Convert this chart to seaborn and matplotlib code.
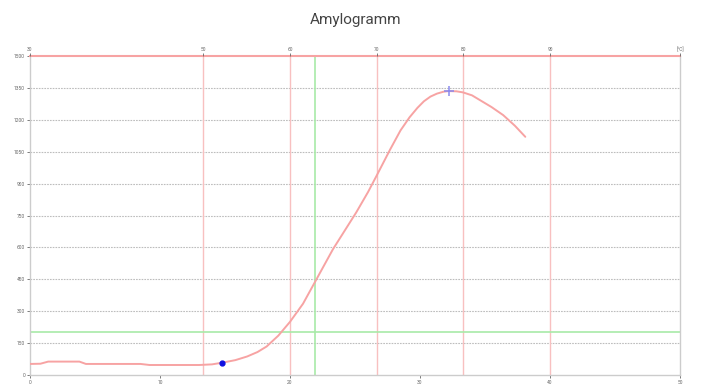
import numpy as np
import pandas as pd
import matplotlib
matplotlib.use("Agg")
import matplotlib.pyplot as plt
import seaborn as sns

# Curve: time [min] vs viscosity [BU]
time_min = [0, 0.8, 1.4, 3.8, 4.3, 8.5, 9.2, 13.0, 14.0, 14.8, 15.8, 16.7,
            17.5, 18.2, 19.1, 20.0, 21.0, 21.9, 23.3, 24.2, 25.1, 26.0,
            26.67, 27.7, 28.5, 29.2, 29.8, 30.3, 30.8, 31.3, 31.8, 32.2,
            32.8, 33.3, 34.0, 34.6, 35.5, 36.4, 37.3, 38.1]
viscosity = [52, 53, 63, 63, 52, 52, 47, 47, 50, 58, 70, 87,
             108, 134, 185, 250, 335, 435, 591, 678, 765, 860,
             938, 1060, 1150, 1212, 1256, 1287, 1309, 1323, 1332, 1335,
             1334, 1329, 1315, 1293, 1260, 1222, 1172, 1120]

# markers: gelatinisation start and peak
start_point = (14.8, 58)
peak_point = (32.2, 1335)

# temperature axis (top): 1.5 degC/min from 30 degC
temp_ticks_min = [0, 13.33, 20, 26.67, 33.33, 40, 50]
temp_labels = ["30", "50", "60", "70", "80", "90", "[°C]"]
red_lines_min = [13.33, 20, 26.67, 33.33, 40]

x_ticks = [0, 10, 20, 30, 40, 50]
y_ticks = [0, 150, 300, 450, 600, 750, 900, 1050, 1200, 1350, 1500]

green_x = 21.9
green_y = 200

df = pd.DataFrame({"time": time_min, "bu": viscosity})

sns.set_theme(style="white")
plt.rcParams["font.family"] = ["Roboto", "DejaVu Sans"]

fig = plt.figure(figsize=(7.12, 3.87), dpi=100)
ax = fig.add_axes([30 / 712, 12 / 387, 650 / 712, 319 / 387])

# grid
for yv in y_ticks[1:-1]:
    ax.axhline(yv, color="#bdbdbd", lw=0.8, ls=(0, (1.5, 1)), zorder=1)
for xv in red_lines_min:
    ax.axvline(xv, color="#f8c0c0", lw=1.0, zorder=1)
ax.axvline(green_x, color="#a8eaa8", lw=1.2, zorder=2)
ax.axhline(green_y, color="#a8eaa8", lw=1.2, zorder=2)

sns.lineplot(data=df, x="time", y="bu", sort=False, color="#f7a3a3",
             lw=1.4, ax=ax, zorder=3)
ax.plot(*start_point, "o", color="#1010e0", ms=3.5, zorder=4)
ax.plot(*peak_point, "+", color="#8a8aee", ms=7, mew=1.1, zorder=4)

ax.set_xlim(0, 50)
ax.set_ylim(0, 1500)
ax.set_xticks(x_ticks)
ax.set_yticks(y_ticks)
ax.set_xticklabels([str(v) for v in x_ticks])
ax.set_yticklabels([str(v) for v in y_ticks])
ax.tick_params(axis="both", labelsize=3.5, colors="#666666", length=2,
               width=0.6, pad=1.5, bottom=True, left=True)
ax.set_xlabel("")
ax.set_ylabel("")

for side in ["left", "bottom", "right"]:
    ax.spines[side].set_color("#cccccc")
    ax.spines[side].set_linewidth(1.0)
ax.spines["top"].set_color("#f7a3a3")
ax.spines["top"].set_linewidth(1.5)

top = ax.twiny()
top.set_xlim(0, 50)
top.set_xticks(temp_ticks_min)
top.set_xticklabels(temp_labels)
top.tick_params(axis="x", labelsize=3.5, colors="#666666", length=2,
                width=0.6, pad=1, top=True)
for side in top.spines:
    top.spines[side].set_visible(False)

fig.text(0.5, 1 - 20 / 387, "Amylogramm", ha="center", va="center",
         fontsize=11, color="#444444")

fig.savefig("out.png", dpi=100)
